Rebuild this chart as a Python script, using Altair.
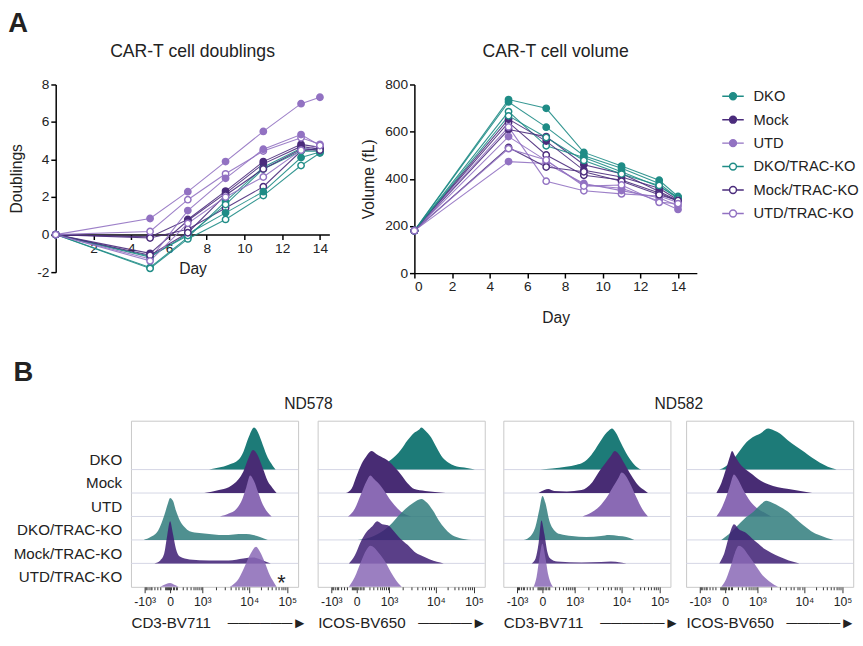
import math
import altair as alt
import pandas as pd

FONT = "Liberation Sans"
TXT = "#222222"

groups = ["DKO", "Mock", "UTD", "DKO/TRAC-KO", "Mock/TRAC-KO", "UTD/TRAC-KO"]
line_colors = ["#1f8c86", "#4b2c7c", "#9272c2", "#1f8c86", "#4b2c7c", "#9272c2"]
point_fills = ["#1f8c86", "#4b2c7c", "#9272c2", "#ffffff", "#ffffff", "#ffffff"]
hist_colors = ["#1d7b78", "#482c74", "#8a6ab4", "#307d7d", "#3d1d73", "#8968b6"]
hist_opacity = [1.0, 1.0, 1.0, 0.85, 0.85, 0.85]

days = [0, 5, 7, 9, 11, 13, 14]

# ---- CAR-T cell doublings (two donors) ----
doub_nd578 = {
    "DKO": [0, -1.75, -0.15, 1.77, 3.59, 4.60, 4.50],
    "Mock": [0, -0.12, 0.81, 2.32, 3.89, 4.81, 4.65],
    "UTD": [0, 0.86, 2.29, 3.89, 5.50, 6.98, 7.32],
    "DKO/TRAC-KO": [0, -1.80, -0.23, 0.81, 2.08, 3.68, 4.35],
    "Mock/TRAC-KO": [0, -0.18, 0.29, 1.42, 2.55, 4.45, 4.60],
    "UTD/TRAC-KO": [0, 0.17, 1.86, 3.24, 4.45, 5.16, 4.81],
}
doub_nd582 = {
    "DKO": [0, -1.20, 0.03, 1.16, 2.29, 4.11, 4.40],
    "Mock": [0, -1.00, 0.75, 2.20, 3.77, 4.70, 4.55],
    "UTD": [0, -1.30, 1.28, 3.00, 4.55, 5.33, 4.75],
    "DKO/TRAC-KO": [0, -1.15, -0.05, 1.60, 3.50, 4.45, 4.45],
    "Mock/TRAC-KO": [0, -1.10, 0.10, 2.10, 3.50, 4.55, 4.50],
    "UTD/TRAC-KO": [0, -1.40, 0.60, 2.00, 3.07, 4.50, 4.75],
}

# ---- CAR-T cell volume (fL) ----
vol_nd578 = {
    "DKO": [180, 736, 699, 512, 454, 394, 325],
    "Mock": [180, 609, 579, 460, 422, 346, 307],
    "UTD": [180, 579, 477, 374, 360, 306, 270],
    "DKO/TRAC-KO": [180, 685, 540, 490, 430, 366, 322],
    "Mock/TRAC-KO": [180, 639, 501, 415, 395, 340, 305],
    "UTD/TRAC-KO": [180, 620, 390, 349, 336, 327, 300],
}
vol_nd582 = {
    "DKO": [180, 726, 619, 498, 445, 380, 318],
    "Mock": [180, 653, 560, 436, 408, 360, 310],
    "UTD": [180, 473, 465, 380, 350, 320, 285],
    "DKO/TRAC-KO": [180, 667, 575, 478, 420, 372, 315],
    "Mock/TRAC-KO": [180, 533, 450, 430, 390, 332, 308],
    "UTD/TRAC-KO": [180, 528, 480, 369, 374, 300, 295],
}

# ---- flow histograms: (display position, relative height) per ridge ----
nd578_cd3 = {
    "DKO": [(80, 0), (90, 2), (100, 5), (110, 10), (115, 18), (120, 32), (126, 43), (130, 38), (135, 25), (140, 12), (145, 4), (148, 0)],
    "Mock": [(75, 0), (90, 3), (100, 6), (110, 14), (115, 22), (120, 35), (125, 44), (130, 38), (135, 25), (140, 12), (145, 5), (149, 0)],
    "UTD": [(91, 0), (100, 3), (108, 8), (114, 18), (118, 30), (122, 42), (126, 36), (130, 25), (135, 12), (140, 4), (144, 0)],
    "DKO/TRAC-KO": [(13, 0), (20, 3), (28, 10), (34, 25), (38, 38), (40, 43), (43, 40), (46, 30), (50, 20), (55, 13), (60, 9), (70, 7), (80, 6), (90, 5), (100, 5), (110, 6), (118, 6), (125, 5), (132, 3), (140, 0)],
    "Mock/TRAC-KO": [(24, 0), (30, 3), (34, 10), (37, 28), (40, 43), (43, 30), (46, 15), (50, 7), (60, 4), (80, 3), (100, 3), (115, 5), (125, 6), (135, 3), (143, 0)],
    "UTD/TRAC-KO": [(30, 0), (36, 3), (40, 4), (45, 2), (50, 0), (100, 0), (104, 2), (110, 8), (116, 20), (122, 33), (128, 41), (132, 36), (137, 25), (142, 12), (146, 5), (149, 0)],
}
nd578_icos = {
    "DKO": [(55, 0), (65, 4), (75, 10), (85, 20), (92, 30), (98, 37), (104, 41), (106, 43), (110, 40), (116, 33), (122, 22), (128, 12), (134, 7), (140, 4), (150, 2), (161, 0)],
    "Mock": [(29, 0), (35, 5), (40, 18), (45, 30), (50, 38), (55, 43), (60, 40), (65, 37), (72, 33), (80, 25), (86, 18), (92, 10), (99, 4), (110, 2), (120, 1), (131, 0)],
    "UTD": [(31, 0), (38, 8), (44, 22), (50, 36), (54, 42), (58, 38), (64, 32), (69, 25), (75, 16), (82, 8), (88, 3), (96, 0)],
    "DKO/TRAC-KO": [(41, 0), (55, 3), (65, 8), (75, 16), (82, 24), (90, 32), (98, 38), (106, 42), (112, 38), (118, 30), (124, 20), (130, 12), (136, 6), (145, 2), (157, 0)],
    "Mock/TRAC-KO": [(32, 0), (38, 8), (44, 22), (50, 32), (56, 38), (61, 43), (66, 40), (72, 39), (78, 33), (85, 25), (92, 19), (99, 12), (106, 8), (115, 4), (129, 0)],
    "UTD/TRAC-KO": [(32, 0), (38, 10), (44, 25), (50, 38), (54, 42), (58, 40), (63, 34), (69, 26), (75, 15), (80, 7), (86, 0)],
}
nd582_cd3 = {
    "DKO": [(38, 0), (50, 1), (64, 3), (75, 5), (81, 7), (90, 15), (98, 27), (104, 36), (108, 40), (111, 42), (115, 38), (120, 28), (124, 20), (130, 10), (135, 4), (141, 0)],
    "Mock": [(36, 0), (42, 3), (46, 4), (52, 2), (65, 1.5), (80, 3), (91, 11), (98, 22), (104, 30), (110, 38), (114, 43), (118, 40), (124, 30), (131, 18), (138, 8), (144, 3), (148, 0)],
    "UTD": [(81, 0), (90, 4), (98, 10), (106, 20), (112, 30), (118, 40), (121, 45), (125, 42), (130, 33), (136, 20), (142, 8), (148, 0)],
    "DKO/TRAC-KO": [(21, 0), (28, 4), (33, 14), (37, 32), (40, 45), (43, 38), (47, 20), (52, 10), (58, 6), (70, 4), (85, 3), (100, 4), (108, 5), (118, 4), (126, 3), (134, 0)],
    "Mock/TRAC-KO": [(29, 0), (33, 5), (36, 20), (39, 44), (42, 30), (45, 12), (48, 5), (55, 2), (80, 1), (100, 1.5), (110, 2), (120, 1), (126, 0)],
    "UTD/TRAC-KO": [(31, 0), (34, 10), (37, 30), (40, 44), (43, 30), (46, 12), (49, 3), (51, 0)],
}
nd582_icos = {
    "DKO": [(34, 0), (40, 3), (48, 10), (54, 18), (60, 26), (68, 33), (76, 37), (84, 42), (90, 40), (96, 37), (104, 30), (112, 24), (121, 18), (129, 12), (137, 7), (145, 3), (154, 0)],
    "Mock": [(31, 0), (36, 10), (41, 25), (45, 38), (47, 43), (50, 38), (55, 30), (61, 24), (68, 19), (74, 14), (84, 9), (94, 6), (105, 4), (117, 2), (129, 0)],
    "UTD": [(31, 0), (36, 8), (41, 20), (45, 32), (49, 43), (53, 38), (58, 28), (64, 18), (72, 9), (80, 4), (87, 0)],
    "DKO/TRAC-KO": [(36, 0), (44, 6), (52, 14), (60, 22), (68, 28), (76, 36), (82, 40), (88, 38), (96, 34), (104, 29), (112, 22), (120, 15), (128, 9), (136, 5), (144, 2), (151, 0)],
    "Mock/TRAC-KO": [(34, 0), (39, 10), (44, 28), (49, 40), (54, 35), (60, 32), (67, 26), (74, 20), (80, 15), (87, 11), (95, 7), (105, 3), (116, 0)],
    "UTD/TRAC-KO": [(36, 0), (41, 8), (46, 22), (50, 35), (54, 42), (58, 40), (64, 32), (71, 22), (78, 12), (86, 5), (94, 0)],
}

# biexponential axis: major tick positions and their labels
major_pos = [14, 40, 73, 121, 160]
major_lab = ["-10\u00b3", "0", "10\u00b3", "10\u2074", "10\u2075"]

# ---------------------------------------------------------------
rows = []
for donor, dd, vv in [("ND578", doub_nd578, vol_nd578), ("ND582", doub_nd582, vol_nd582)]:
    for g in groups:
        for d, a, b in zip(days, dd[g], vv[g]):
            rows.append(dict(group=g, series=g + "|" + donor, day=d, doublings=a, volume=b))
df_lines = pd.DataFrame(rows)

stroke_scale = alt.Scale(domain=groups, range=line_colors)
fill_scale = alt.Scale(domain=groups, range=point_fills)

LEG_SYMBOL = "M-1,0L-0.32,0M0.32,0L1,0M-0.32,0A0.32,0.32,0,1,1,0.32,0A0.32,0.32,0,1,1,-0.32,0Z"


def axis_style(**kw):
    base = dict(domainColor="black", domainWidth=1.5, tickColor="black", tickWidth=1.5, tickSize=5,
                labelFontSize=14, labelColor=TXT, titleFontSize=16, titleFontWeight="normal",
                titleColor=TXT, grid=False, labelFont=FONT, titleFont=FONT)
    base.update(kw)
    return alt.Axis(**base)


def line_chart(field, xdomain, width, height, ydomain, yvals, ytitle, title, legend, xaxis, ytp):
    legend_def = alt.Legend(title=None, orient="right", offset=25, symbolType=LEG_SYMBOL, symbolSize=484,
                            symbolStrokeWidth=1.5, labelFontSize=15, labelFont=FONT, labelColor=TXT,
                            labelOffset=9, rowPadding=4, padding=0, symbolOpacity=1) if legend else None
    X = alt.X("day:Q", scale=alt.Scale(domain=xdomain, nice=False, zero=False), axis=xaxis)
    Y = alt.Y(field + ":Q", scale=alt.Scale(domain=ydomain, nice=False, zero=False),
              axis=axis_style(values=yvals, title=ytitle, labelExpr="'' + datum.value", titlePadding=ytp))
    base = alt.Chart(df_lines)
    S = alt.Stroke("group:N", scale=stroke_scale, legend=legend_def)
    F = alt.Fill("group:N", scale=fill_scale, legend=legend_def)
    lines = base.mark_line(strokeWidth=1.1, opacity=0.9).encode(x=X, y=Y, stroke=S, detail="series:N")
    pts = base.mark_point(filled=True, size=42, strokeWidth=1.5, opacity=1, shape="circle").encode(
        x=X, y=Y, stroke=S, fill=F)
    return alt.layer(lines, pts).properties(
        width=width, height=height,
        title=alt.TitleParams(title, fontSize=18, font=FONT, fontWeight="normal", color=TXT, offset=17,
                              anchor="middle"))


doub_chart = line_chart(
    "doublings", [0, 14.5], 280, 192, [-2, 8], [-2, 0, 2, 4, 6, 8], "Doublings", "CAR-T cell doublings", False,
    axis_style(values=[2, 4, 6, 8, 10, 12, 14], title="Day", offset=-38.4, titlePadding=6), 13)
vol_chart = line_chart(
    "volume", [0, 15], 289, 193, [0, 800], [0, 200, 400, 600, 800], "Volume (fL)", "CAR-T cell volume", True,
    axis_style(values=[0, 2, 4, 6, 8, 10, 12, 14], title="Day", titlePadding=17), 8)

top = alt.hconcat(doub_chart, vol_chart, spacing=32).resolve_legend(
    stroke="independent", fill="independent").properties(
    title=alt.TitleParams("A", anchor="start", fontSize=28, fontWeight="bold", font=FONT, color=TXT, offset=6))

# ---------------- ridgeline panels ----------------
ROW = 24
minor = []
for k in range(2, 10):
    minor.append(round(73 + 48 * math.log10(k), 2))
    minor.append(round(121 + 39 * math.log10(k), 2))
for v in [100, 200, 300, 400, 500, 600, 700, 800, 900]:
    s = math.asinh(v / 200) / math.asinh(5)
    minor.append(round(40 + 33 * s, 2))
    minor.append(round(40 - 26 * s, 2))
for v in [20, 40, 60, 80]:
    s = math.asinh(v / 200) / math.asinh(5)
    minor.append(round(40 + 33 * s, 2))
    minor.append(round(40 - 26 * s, 2))
tick_vals = major_pos + minor
major_test = " || ".join(f"datum.value == {p}" for p in major_pos)
lab_expr = "".join(f"datum.value == {p} ? '{l}' : " for p, l in zip(major_pos, major_lab)) + "''"

yscale = alt.Scale(domain=[0, 170], nice=False, zero=False)


def panel(data, xtitle, asterisk=False):
    xaxis = alt.Axis(values=tick_vals, labelExpr=lab_expr, domain=False, grid=False,
                     tickSize={"condition": {"test": major_test, "value": 6}, "value": 3},
                     tickColor="#333333", tickWidth=1, labelFontSize=12.5, labelFont=FONT, labelColor=TXT,
                     labelOverlap=False, labelFlush=False, labelPadding=3,
                     title=xtitle, titleAnchor="start", titleAlign="left", titleFontSize=15.5,
                     titleFont=FONT, titleFontWeight="normal", titleColor=TXT, titlePadding=8)
    X = alt.X("x:Q", scale=alt.Scale(domain=[0, 171], nice=False, zero=False), axis=xaxis)
    layers = []
    rule_df = pd.DataFrame({"top": [r * ROW for r in range(1, 6)]})
    layers.append(alt.Chart(rule_df).mark_rule(color="#d4d6e4", strokeWidth=1).encode(
        y=alt.Y("top:Q", scale=yscale, axis=None)))
    for i, g in enumerate(groups):
        row = 5 - i
        df = pd.DataFrame([dict(x=x, top=row * ROW + h, base=row * ROW) for x, h in data[g]])
        layers.append(alt.Chart(df).mark_area(interpolate="monotone", color=hist_colors[i],
                                              opacity=hist_opacity[i]).encode(
            x=X, y=alt.Y("top:Q", scale=yscale, axis=None), y2="base:Q"))
    if asterisk:
        adf = pd.DataFrame({"x": [154], "top": [4], "t": ["*"]})
        layers.append(alt.Chart(adf).mark_text(fontSize=22, font=FONT, color=TXT, baseline="middle").encode(
            x=X, y=alt.Y("top:Q", scale=yscale, axis=None), text="t:N"))
    return alt.layer(*layers).properties(width=171, height=170,
                                         view=alt.ViewBackground(stroke="#c8c8c8", strokeWidth=1))


# row labels as a narrow text column sharing the panels' vertical scale
lab_df = pd.DataFrame({"group": groups, "top": [(5 - i) * ROW + 10 for i in range(6)]})
row_labels = alt.Chart(lab_df).mark_text(align="right", baseline="middle", fontSize=15.5, font=FONT,
                                         color=TXT).encode(
    x=alt.value(68), y=alt.Y("top:Q", scale=yscale, axis=None), text="group:N"
).properties(width=68, height=170)

NB = "\u00a0"
DASH = "\u2500"
HEAD = "\u25ba"
p1 = panel(nd578_cd3, "CD3-BV711" + NB * 4 + DASH * 6 + HEAD, asterisk=True)
p2 = panel(nd578_icos, "ICOS-BV650" + NB * 3 + DASH * 5 + HEAD)
p3 = panel(nd582_cd3, "CD3-BV711" + NB * 4 + DASH * 6 + HEAD)
p4 = panel(nd582_icos, "ICOS-BV650" + NB * 3 + DASH * 5 + HEAD)

sub_title = dict(fontSize=16, font=FONT, fontWeight="normal", color=TXT, offset=8, anchor="middle")
g1 = alt.hconcat(p1, p2, spacing=9).properties(title=alt.TitleParams("ND578", **sub_title))
g2 = alt.hconcat(p3, p4, spacing=5).properties(title=alt.TitleParams("ND582", **sub_title))
bottom = alt.hconcat(row_labels, alt.hconcat(g1, g2, spacing=15), spacing=8).properties(
    title=alt.TitleParams("B", anchor="start", fontSize=28, fontWeight="bold", font=FONT, color=TXT, offset=10))

chart = alt.vconcat(top, bottom, spacing=34).properties(
    padding={"left": 8, "top": 3, "right": 4, "bottom": 4}
).configure(font=FONT).configure_view(strokeWidth=0).configure_axis(titleFontSize=15.5, labelFontSize=12.5)

chart.save("out.html", embed_options={"renderer": "svg", "actions": False})
